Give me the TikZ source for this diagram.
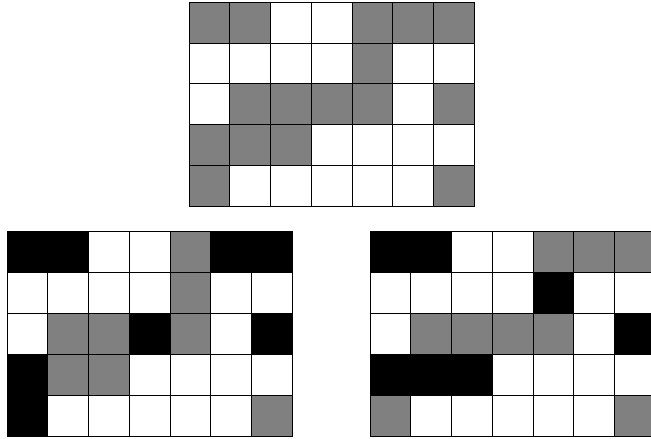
\documentclass[tikz,border=0pt]{standalone}
\colorlet{cw}{white}
\colorlet{cg}{gray}
\colorlet{cb}{black}
\tikzset{cell/.style={draw=black,line width=0.8pt}}
\newcommand\drawmygrid[3]{%
  \foreach \row [count=\r from 0] in {#3}{%
    \foreach \c [count=\k from 0] in \row {%
      \filldraw[cell,fill=c\c] ({#1+\k*40.75},{#2+\r*40.9}) rectangle +(40.75,40.9);
    }%
  }%
}
\begin{document}
\begin{tikzpicture}[x=1pt,y=-1pt]
\useasboundingbox (0,0) rectangle (651,439);
\drawmygrid{189}{2}{{g,g,w,w,g,g,g},{w,w,w,w,g,w,w},{w,g,g,g,g,w,g},{g,g,g,w,w,w,w},{g,w,w,w,w,w,g}}
\drawmygrid{7}{231.5}{{b,b,w,w,g,b,b},{w,w,w,w,g,w,w},{w,g,g,b,g,w,b},{b,g,g,w,w,w,w},{b,w,w,w,w,w,g}}
\drawmygrid{370}{231.5}{{b,b,w,w,g,g,g},{w,w,w,w,b,w,w},{w,g,g,g,g,w,b},{b,b,b,w,w,w,w},{g,w,w,w,w,w,g}}
\end{tikzpicture}
\end{document}
